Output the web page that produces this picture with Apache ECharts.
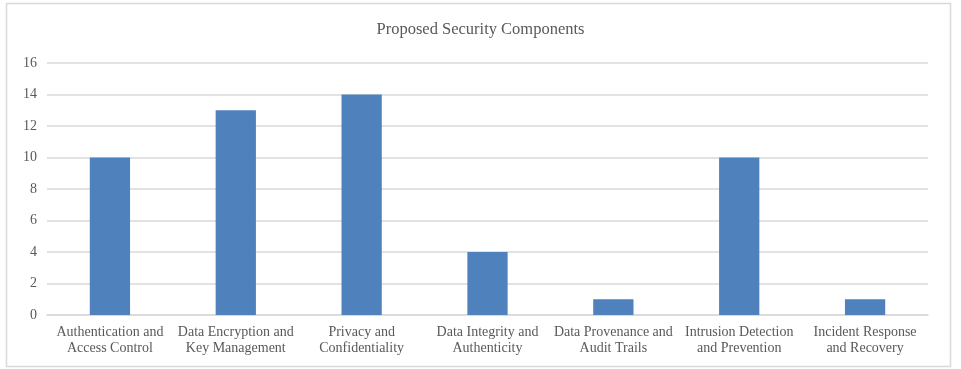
<!DOCTYPE html>
<html><head><meta charset="utf-8">
<script src="https://cdn.jsdelivr.net/npm/echarts@6/dist/echarts.min.js"></script>
<style>html,body{margin:0;padding:0;background:#fff}#c{width:961px;height:369px}</style>
</head><body><div id="c"></div>
<script>
const titleText = "Proposed Security Components";
const categories = [
  "Authentication and\nAccess Control",
  "Data Encryption and\nKey Management",
  "Privacy and\nConfidentiality",
  "Data Integrity and\nAuthenticity",
  "Data Provenance and\nAudit Trails",
  "Intrusion Detection\nand Prevention",
  "Incident Response\nand Recovery"
];
const values = [10, 13, 14, 4, 1, 10, 1];
const yMin = 0, yMax = 16, yStep = 2;

const font = "Liberation Serif";
const chart = echarts.init(document.getElementById('c'), null, {renderer:'canvas'});
chart.setOption({
  animation:false,
  backgroundColor:'#fff',
  graphic:[{type:'rect', shape:{x:6.5,y:3.5,width:944,height:363}, style:{fill:'none',stroke:'#d9d9d9',lineWidth:1.5}, silent:true}],
  title:{text:titleText, left:'center', top:16, textStyle:{fontFamily:font, fontSize:16.5, fontWeight:'normal', color:'#595959'}},
  grid:{left:47, right:33, top:63, bottom:54, containLabel:false},
  xAxis:{type:'category', data:categories,
    axisLine:{lineStyle:{color:'#d9d9d9', width:1.5}}, axisTick:{show:false},
    axisLabel:{fontFamily:font, fontSize:14, color:'#595959', lineHeight:16.5, margin:9, interval:0}},
  yAxis:{type:'value', min:yMin, max:yMax, interval:yStep,
    axisLine:{show:false}, axisTick:{show:false},
    splitLine:{lineStyle:{color:'#d9d9d9', width:1.5}},
    axisLabel:{fontFamily:font, fontSize:14, color:'#595959', margin:10}},
  series:[{type:'bar', data:values, barWidth:'32%', itemStyle:{color:'#4f81bd'}}]
});
</script></body></html>
